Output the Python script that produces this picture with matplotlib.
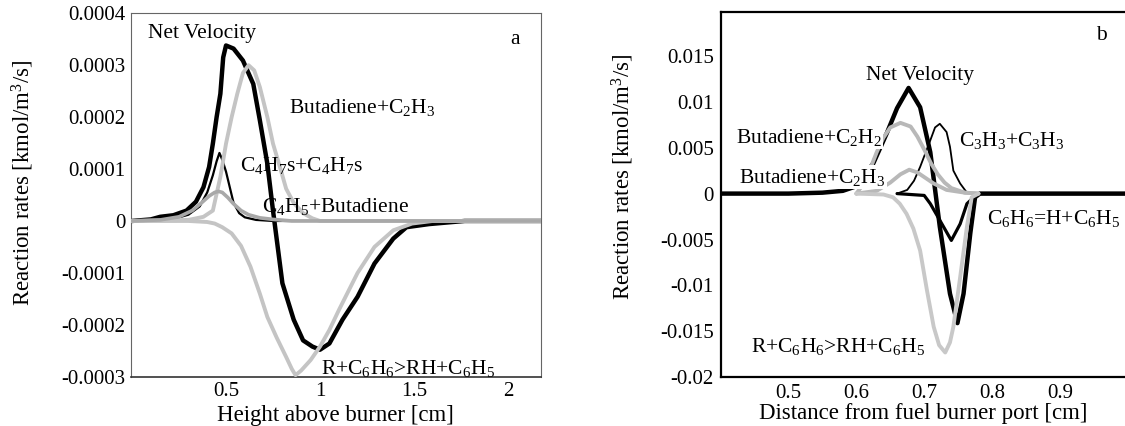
import matplotlib
matplotlib.use('Agg')
import matplotlib.pyplot as plt

plt.rcParams['font.family'] = ['Liberation Serif', 'DejaVu Serif']
plt.rcParams['mathtext.fontset'] = 'custom'
plt.rcParams['mathtext.rm'] = 'Liberation Serif'
plt.rcParams['mathtext.it'] = 'Liberation Serif'
plt.rcParams['axes.unicode_minus'] = False

# ---- panel a : height above burner [cm] ----
a_net_x = [0, 0.10, 0.15, 0.22, 0.29, 0.34, 0.38, 0.41, 0.43, 0.45, 0.47, 0.485, 0.50, 0.54, 0.59, 0.645,
           0.68, 0.72, 0.75, 0.80, 0.86, 0.91, 0.96, 1.0, 1.05, 1.12, 1.20, 1.29, 1.39, 1.46, 1.58, 1.77, 2.2]
a_net_y = [0, 0.000003, 0.000008, 0.000011, 0.00002, 0.000037, 0.000065, 0.000104, 0.000149, 0.0002, 0.000245,
           0.000315, 0.000338, 0.000332, 0.000309, 0.000264, 0.000194, 0.00011, 0.00002, -0.00012, -0.00019,
           -0.00023, -0.000242, -0.000248, -0.000236, -0.00019, -0.000146, -0.000082, -0.000034, -0.000012,
           -0.000006, 0, 0]

a_c2h3_x = [0, 0.30, 0.38, 0.43, 0.47, 0.50, 0.53, 0.56, 0.59, 0.62, 0.65, 0.68, 0.72, 0.75, 0.79, 0.82, 0.86,
            0.91, 0.96, 1.0, 2.2]
a_c2h3_y = [0, 0.000002, 0.000008, 0.00002, 0.000085, 0.000149, 0.0002, 0.000245, 0.000285, 0.0003, 0.00029,
            0.000258, 0.0002, 0.000149, 0.0001, 0.000062, 0.000035, 0.000015, 0.000005, 0, 0]

a_c4h7_x = [0, 0.15, 0.24, 0.30, 0.36, 0.40, 0.43, 0.45, 0.465, 0.48, 0.50, 0.52, 0.54, 0.57, 0.60, 0.66, 0.75, 2.2]
a_c4h7_y = [0, 0.000002, 0.000006, 0.000012, 0.000028, 0.000055, 0.000088, 0.000115, 0.000131, 0.000118,
            0.000095, 0.000065, 0.000035, 0.000015, 0.000007, 0.000002, 0, 0]

a_c4h5_x = [0, 0.15, 0.25, 0.32, 0.37, 0.41, 0.44, 0.46, 0.48, 0.51, 0.54, 0.58, 0.62, 0.68, 0.75, 0.85, 2.2]
a_c4h5_y = [0, 0.000002, 0.000008, 0.00002, 0.000035, 0.000048, 0.000055, 0.000057, 0.000055, 0.000045,
            0.000033, 0.00002, 0.000012, 0.000006, 0.000003, 0, 0]

a_rc6_x = [0, 0.30, 0.40, 0.44, 0.48, 0.53, 0.58, 0.63, 0.68, 0.72, 0.77, 0.82, 0.85, 0.87, 0.90, 0.95, 1.0,
           1.05, 1.10, 1.20, 1.29, 1.39, 1.49, 1.6, 2.2]
a_rc6_y = [0, 0, -0.000002, -0.000005, -0.000012, -0.000024, -0.000048, -0.000088, -0.00014, -0.000185,
           -0.000225, -0.000262, -0.000285, -0.000297, -0.000288, -0.000268, -0.000242, -0.00021, -0.000172,
           -0.0001, -0.00005, -0.000018, -0.000005, 0, 0]

a_xticks = [0.5, 1, 1.5, 2]
a_xticklabels = ['0.5', '1', '1.5', '2']
a_yticks = [-0.0003, -0.0002, -0.0001, 0, 0.0001, 0.0002, 0.0003, 0.0004]
a_yticklabels = ['-0.0003', '-0.0002', '-0.0001', '0', '0.0001', '0.0002', '0.0003', '0.0004']

# ---- panel b : distance from fuel burner port [cm] ----
b_net_x = [0.4, 0.5, 0.55, 0.58, 0.60, 0.625, 0.645, 0.66, 0.677, 0.694, 0.709, 0.723, 0.738, 0.749, 0.758,
           0.768, 0.775, 0.782, 1.0]
b_net_y = [0, 0, 0.0001, 0.0003, 0.0008, 0.0033, 0.0066, 0.0093, 0.0115, 0.0094, 0.0045, -0.0036, -0.0109,
           -0.0141, -0.0109, -0.0043, -0.0004, 0, 0]

b_c2h2_x = [0.6, 0.61, 0.62, 0.63, 0.64, 0.65, 0.665, 0.68, 0.69, 0.70, 0.71, 0.72, 0.73, 0.74, 0.76, 0.78]
b_c2h2_y = [0, 0.001, 0.0026, 0.0045, 0.0061, 0.0072, 0.0077, 0.0073, 0.0062, 0.0048, 0.0033, 0.0021, 0.0012,
            0.0006, 0.0001, 0]

b_c2h3_x = [0.6, 0.63, 0.65, 0.665, 0.678, 0.69, 0.70, 0.714, 0.733, 0.76, 0.78]
b_c2h3_y = [0, 0.0003, 0.0012, 0.0021, 0.0026, 0.0023, 0.0018, 0.0011, 0.0004, 0.0001, 0]

b_c3h3_x = [0.66, 0.675, 0.685, 0.694, 0.709, 0.716, 0.723, 0.733, 0.738, 0.743, 0.753, 0.762, 0.775, 0.79]
b_c3h3_y = [0, 0.0004, 0.0014, 0.0029, 0.0058, 0.0072, 0.0076, 0.0067, 0.0051, 0.0025, 0.0011, 0.0002, 0, 0]

b_c6h6_x = [0.66, 0.70, 0.709, 0.723, 0.74, 0.753, 0.763, 0.773, 0.78, 1.0]
b_c6h6_y = [0, -0.0002, -0.0011, -0.0029, -0.0051, -0.0033, -0.0011, -0.0004, 0, 0]

b_rc6_x = [0.6, 0.64, 0.654, 0.664, 0.674, 0.684, 0.694, 0.704, 0.714, 0.722, 0.731, 0.738, 0.743, 0.753,
           0.763, 0.770, 0.78]
b_rc6_y = [0, -0.0001, -0.0004, -0.0011, -0.0022, -0.0038, -0.0062, -0.0105, -0.0145, -0.0165, -0.0173,
           -0.0162, -0.0145, -0.0091, -0.0036, -0.0004, 0]

b_xticks = [0.5, 0.6, 0.7, 0.8, 0.9]
b_xticklabels = ['0.5', '0.6', '0.7', '0.8', '0.9']
b_yticks = [-0.02, -0.015, -0.01, -0.005, 0, 0.005, 0.01, 0.015]
b_yticklabels = ['-0.02', '-0.015', '-0.01', '-0.005', '0', '0.005', '0.01', '0.015']

ylabel = 'Reaction rates [kmol/m$^3$/s]'
fs_tick = 15
fs_text = 15.5
fs_label = 16.5

fig = plt.figure(figsize=(11.25, 4.26), dpi=100)

# panel a
ax = fig.add_axes([0.1162, 0.1157, 0.3647, 0.8531])
kw = dict(solid_joinstyle='round', solid_capstyle='round')
ax.plot(a_net_x, a_net_y, color='black', lw=3.2, zorder=2, **kw)
ax.plot(a_c4h7_x, a_c4h7_y, color='black', lw=1.6, zorder=2, **kw)
ax.plot(a_c2h3_x, a_c2h3_y, color='#c4c4c4', lw=2.8, zorder=3, **kw)
ax.plot(a_rc6_x, a_rc6_y, color='#c4c4c4', lw=2.8, zorder=3, **kw)
ax.plot(a_c4h5_x, a_c4h5_y, color='#a8a8a8', lw=2.6, zorder=3, **kw)
ax.set_xlim(-0.007, 2.176)
ax.set_ylim(-0.0003, 0.0004)
ax.set_xticks(a_xticks)
ax.set_xticklabels(a_xticklabels)
ax.set_yticks(a_yticks)
ax.set_yticklabels(a_yticklabels)
ax.tick_params(length=0, labelsize=fs_tick)
ax.tick_params(axis='x', pad=4)
ax.tick_params(axis='y', pad=4)
for side in ['left', 'top', 'right']:
    ax.spines[side].set_linewidth(0.8)
    ax.spines[side].set_color('#666666')
ax.spines['bottom'].set_linewidth(1.2)
ax.spines['bottom'].set_color('#333333')
ax.set_xlabel('Height above burner [cm]', fontsize=fs_label, va='center')
ax.xaxis.set_label_coords(0.5, -0.107)
ax.set_ylabel(ylabel, fontsize=fs_label, va='center')
ax.yaxis.set_label_coords(-0.2625, 0.533)

ax.text(0.085, 0.000362, 'Net Velocity', fontsize=fs_text, ha='left', va='center')
ax.text(2.04, 0.000349, 'a', fontsize=fs_text, ha='center', va='center')
ax.text(1.226, 0.000218, 'Butadiene+C$_2$H$_3$', fontsize=fs_text, ha='center', va='center')
ax.text(0.903, 0.000107, 'C$_4$H$_7$s+C$_4$H$_7$s', fontsize=fs_text, ha='center', va='center')
ax.text(1.08, 0.000027, 'C$_4$H$_5$+Butadiene', fontsize=fs_text, ha='center', va='center')
ax.text(1.47, -0.000284, 'R+C$_6$H$_6$>RH+C$_6$H$_5$', fontsize=fs_text, ha='center', va='center')

# panel b
bx = fig.add_axes([0.6406, 0.1143, 0.3594, 0.8582])
bx.plot(b_net_x, b_net_y, color='black', lw=3.2, zorder=2, **kw)
bx.plot(b_c6h6_x, b_c6h6_y, color='black', lw=2.3, zorder=2, **kw)
bx.plot(b_c3h3_x, b_c3h3_y, color='black', lw=1.3, zorder=2, **kw)
bx.plot(b_c2h2_x, b_c2h2_y, color='#b8b8b8', lw=2.8, zorder=3, **kw)
bx.plot(b_c2h3_x, b_c2h3_y, color='#b8b8b8', lw=2.8, zorder=3, **kw)
bx.plot(b_rc6_x, b_rc6_y, color='#c8c8c8', lw=2.8, zorder=3, **kw)
bx.set_xlim(0.4, 0.996)
bx.set_ylim(-0.02, 0.0198)
bx.set_xticks(b_xticks)
bx.set_xticklabels(b_xticklabels)
bx.set_yticks(b_yticks)
bx.set_yticklabels(b_yticklabels)
bx.tick_params(length=0, labelsize=fs_tick)
bx.tick_params(axis='x', pad=4.5)
bx.tick_params(axis='y', pad=5)
bx.spines['right'].set_visible(False)
for side in ['left', 'top', 'bottom']:
    bx.spines[side].set_linewidth(1.6)
bx.set_xlabel('Distance from fuel burner port [cm]', fontsize=fs_label, va='center')
bx.xaxis.set_label_coords(0.5, -0.1)
bx.set_ylabel(ylabel, fontsize=fs_label, va='center')
bx.yaxis.set_label_coords(-0.2417, 0.55)

white = dict(facecolor='white', edgecolor='none', pad=1)
bx.text(0.962, 0.0172, 'b', fontsize=fs_text, ha='center', va='center')
bx.text(0.694, 0.0129, 'Net Velocity', fontsize=fs_text, ha='center', va='center')
bx.text(0.638, 0.00615, 'Butadiene+C$_2$H$_2$', fontsize=fs_text, ha='right', va='center', bbox=white, zorder=5)
bx.text(0.535, 0.0018, 'Butadiene+C$_2$H$_3$', fontsize=fs_text, ha='center', va='center', bbox=white, zorder=5)
bx.text(0.829, 0.0058, 'C$_3$H$_3$+C$_3$H$_3$', fontsize=fs_text, ha='center', va='center')
bx.text(0.891, -0.0027, 'C$_6$H$_6$=H+C$_6$H$_5$', fontsize=fs_text, ha='center', va='center')
bx.text(0.573, -0.01667, 'R+C$_6$H$_6$>RH+C$_6$H$_5$', fontsize=fs_text, ha='center', va='center')

fig.savefig('out.png', dpi=100)
